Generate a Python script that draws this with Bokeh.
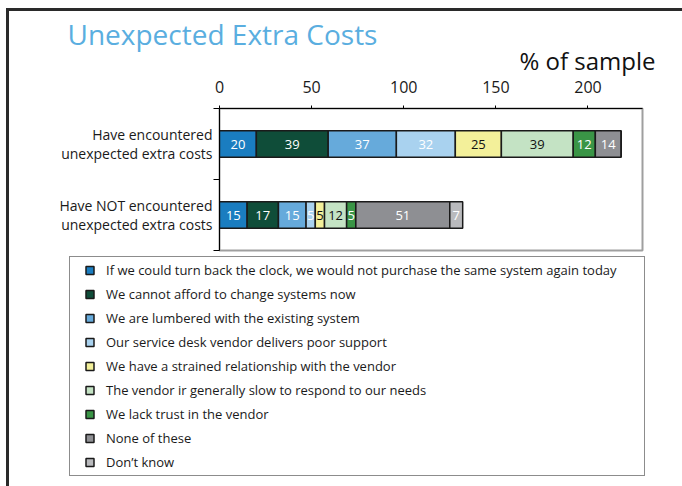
import numpy as np
from bokeh.plotting import figure
from bokeh.layouts import column
from bokeh.models import (ColumnDataSource, Range1d, FixedTicker,
                          Legend, LegendItem, Title)
from bokeh.core.properties import value
from bokeh.embed import file_html
from bokeh.resources import INLINE

# ---------------- data ----------------
categories = ["Have encountered\nunexpected extra costs",
              "Have NOT encountered\nunexpected extra costs"]
series = [
    "If we could turn back the clock, we would not purchase the same system again today",
    "We cannot afford to change systems now",
    "We are lumbered with the existing system",
    "Our service desk vendor delivers poor support",
    "We have a strained relationship with the vendor",
    "The vendor ir generally slow to respond to our needs",
    "We lack trust in the vendor",
    "None of these",
    "Don\u2019t know",
]
encountered = [20, 39, 37, 32, 25, 39, 12, 14, 0]
not_encountered = [15, 17, 15, 5, 5, 12, 5, 51, 7]
colors = ["#1a7dc0", "#0f4d39", "#66aadb", "#a9d2ef", "#f3f09a",
          "#c4e3c4", "#3a9546", "#8e8f93", "#b9babd"]
label_colors = ["white", "white", "white", "white", "#111111",
                "#111111", "white", "white", "white"]
x_ticks = [0, 50, 100, 150, 200]
x_title = "% of sample"
title_text = "Unexpected Extra Costs"

FONT = "Open Sans"
rows = [encountered, not_encountered]
n = len(categories)
ypos = [n - i - 0.5 for i in range(n)]
bounds = [float(k) for k in range(0, n + 1)]

keys = ["s%d" % i for i in range(len(series))]
data = {"y": ypos}
for j, k in enumerate(keys):
    data[k] = [row[j] for row in rows]
src = ColumnDataSource(data)

# ---------------- chart figure ----------------
p = figure(width=673, height=242, x_range=Range1d(0, 229.6), y_range=Range1d(0, n),
           output_backend="svg", toolbar_location=None,
           x_axis_location="above", y_axis_location="left",
           min_border_left=210, min_border_right=40, min_border_top=97,
           min_border_bottom=3)
p.frame_align = False
p.xgrid.visible = False
p.ygrid.visible = False
p.outline_line_color = "#9f9f9f"
p.outline_line_width = 2
p.background_fill_color = "white"
p.border_fill_color = "white"

p.hbar_stack(keys, y="y", height=0.37, source=src, fill_color=colors,
             line_color="#1a1a1a", line_width=1.5)

# value labels
lx, ly, lt, lc = [], [], [], []
for i, row in enumerate(rows):
    start = 0
    for j, v in enumerate(row):
        if v > 0:
            lx.append(start + v / 2)
            ly.append(ypos[i])
            lt.append(str(v))
            lc.append(label_colors[j])
        start += v
lsrc = ColumnDataSource(dict(x=lx, y=ly, text=lt, color=lc))
p.text(x="x", y="y", text="text", text_color="color", source=lsrc,
       text_align="center", text_baseline="middle",
       text_font=value(FONT), text_font_size="13px")

# top axis
xa = p.xaxis[0]
xa.ticker = FixedTicker(ticks=x_ticks)
xa.major_tick_out = 3
xa.major_tick_in = 0
xa.minor_tick_out = 0
xa.minor_tick_in = 0
xa.axis_line_color = "black"
xa.major_tick_line_color = "black"
xa.major_label_text_font = FONT
xa.major_label_text_font_size = "16px"
xa.major_label_text_color = "#1a1a1a"
xa.major_label_standoff = 13

# left axis: category labels as majors, boundary ticks as minors
ya = p.yaxis[0]
ya.ticker = FixedTicker(ticks=ypos, minor_ticks=bounds)
ya.major_label_overrides = {y: c for y, c in zip(ypos, categories)}
ya.major_tick_out = 0
ya.major_tick_in = 0
ya.minor_tick_out = 6
ya.minor_tick_in = 0
ya.minor_tick_line_color = "black"
ya.axis_line_color = "black"
ya.major_label_standoff = 1
ya.major_label_text_font = FONT
ya.major_label_text_font_size = "14px"
ya.major_label_text_line_height = 0.95
ya.major_label_text_color = "#1a1a1a"

# axis title and chart title
p.add_layout(Title(text=x_title, align="right", offset=-13, standoff=2,
                   text_font=FONT, text_font_size="24px", text_font_style="normal",
                   text_color="#111111"), "above")
p.add_layout(Title(text=title_text, align="left", offset=-152, standoff=-25,
                   text_font=FONT, text_font_size="28px", text_font_style="normal",
                   text_color="#5aaee0"), "above")

# ---------------- legend figure ----------------
q = figure(width=673, height=233, x_range=Range1d(0, 1), y_range=Range1d(0, 1),
           output_backend="svg", toolbar_location=None,
           x_axis_location=None, y_axis_location=None, min_border=0)
q.frame_align = False
q.xgrid.visible = False
q.ygrid.visible = False
q.outline_line_color = None
q.background_fill_color = "white"
q.border_fill_color = "white"

items = []
for name, c in zip(series, colors):
    # legend proxy: one undefined (NaN) point, so nothing is drawn in the frame
    r = q.scatter(x=np.array([np.nan]), y=np.array([np.nan]), marker="square",
                  size=8, fill_color=c, line_color="#1a1a1a", line_width=1.5)
    items.append(LegendItem(label=name, renderers=[r]))
legend = Legend(items=items, location=(60, 10), orientation="vertical",
                glyph_width=33, glyph_height=20, label_height=20, spacing=4,
                padding=3, margin=0, label_standoff=0, label_width=535,
                border_line_color="#1a1a1a", border_line_width=1.5,
                background_fill_color="white", background_fill_alpha=1.0,
                label_text_font=FONT, label_text_font_size="13px",
                label_text_color="#1a1a1a")
q.add_layout(legend)

lay = column(p, q, spacing=0)
lay.styles = {"border-top": "3px solid #2a2a2a", "border-left": "3px solid #2a2a2a",
              "margin-left": "6px", "margin-top": "8px"}

open("out.html", "w").write(file_html(lay, INLINE))
